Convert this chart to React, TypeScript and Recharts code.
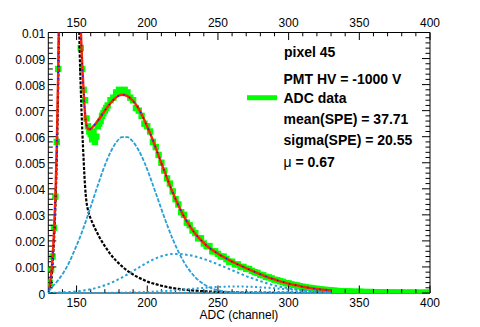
import React from "react";
import { ComposedChart, Line, XAxis, YAxis } from "recharts";

// fit curves, sampled on one grid (finer around the pedestal)
const curveX = [
  130, 131, 132, 133, 134, 135, 136, 137, 138, 140, 142, 145, 148, 150, 151, 152, 153, 154, 155, 156,
  157, 158, 159, 160, 162, 164, 166, 168, 170, 174, 178, 182, 186, 190, 194, 198, 202, 206, 210, 214,
  218, 222, 226, 230, 234, 238, 242, 246, 250, 254, 258, 262, 266, 270, 274, 278, 282, 286, 290, 294,
  298, 302, 306, 310, 314, 318, 322, 326, 330,
];
const pedestal = [
  0.00005, 0.00018, 0.0005, 0.0011, 0.002, 0.0033, 0.0052, 0.008, 0.0118, 0.02, 0.03, 0.04, 0.035, 0.02, 0.0135, 0.0098, 0.0078, 0.0063, 0.0051, 0.0041,
  0.0035, 0.0032, 0.003, 0.00285, 0.0026, 0.00237, 0.00216, 0.00197, 0.0018, 0.00149, 0.00124, 0.00103, 0.00085, 0.00071, 0.00059, 0.00049, 0.0004, 0.00034, 0.00028, 0.00023,
  0.00019, 0.00016, 0.00013, 0.00011, 0.00009, 0.000075, 0.000062, 0.000051, 0.000043, 0.000035, 0.000029, 0.000024, 0.00002, 0.000017, 0.000014, 0.000012, 0.00001, 0.000008, 0.0000065, 0.0000054,
  0.0000045, 0.000004, 0.0000033, 0.0000027, 0.0000022, 0.0000018, 0.0000015, 0.0000012, 0.000001,
];
const pe1 = [
  0.00008, 0.00013, 0.00019, 0.00025, 0.00031, 0.00037, 0.00043, 0.0005, 0.00057, 0.00072, 0.0009, 0.0012, 0.00157, 0.00182, 0.00195, 0.00208, 0.00222, 0.00237, 0.00252, 0.00267,
  0.00283, 0.00299, 0.00315, 0.00331, 0.00364, 0.00397, 0.00429, 0.00461, 0.0049, 0.00541, 0.00578, 0.00598, 0.00598, 0.0058, 0.00547, 0.00501, 0.00445, 0.00384, 0.00322, 0.00262,
  0.00207, 0.00159, 0.00118, 0.00086, 0.0006, 0.00041, 0.00027, 0.00017, 0.00011, 0.000066, 0.000039, 0.000022, 0.000012, 0.0000066, 0.0000035, 0.0000017, 0.0000008, 0.0000004, 0.0000002, 0.0000001,
  0.0000001, 0.0000001, 0.0000001, 0.0000001, 0.0000001, 0.0000001, 0.0000001, 0.0000001, 0.0000001,
];
const pe2 = [
  0.0000075, 0.0000084, 0.0000095, 0.0000106, 0.0000119, 0.0000134, 0.0000149, 0.0000167, 0.0000186, 0.000023, 0.000028, 0.000038, 0.000051, 0.000061, 0.000067, 0.000074, 0.000081, 0.000088, 0.000096, 0.000104,
  0.000113, 0.000123, 0.000133, 0.000144, 0.000168, 0.000196, 0.000226, 0.00026, 0.000297, 0.000381, 0.00048, 0.000592, 0.000714, 0.000844, 0.000976, 0.001105, 0.001225, 0.00133, 0.001413, 0.00147,
  0.0015, 0.0015, 0.00148, 0.00145, 0.0014, 0.00134, 0.00127, 0.00119, 0.0011, 0.00101, 0.00092, 0.00083, 0.00074, 0.00065, 0.00057, 0.00049, 0.00042, 0.00035, 0.00029, 0.00024,
  0.0002, 0.00016, 0.00013, 0.0001, 0.00008, 0.000062, 0.000047, 0.000036, 0.000027,
];
const pe3 = [
  0.0000001, 0.0000001, 0.0000001, 0.0000001, 0.0000001, 0.0000001, 0.0000001, 0.0000001, 0.00000014, 0.0000002, 0.0000003, 0.0000004, 0.0000005, 0.00000055, 0.0000006, 0.0000007, 0.0000008, 0.0000009, 0.000001, 0.0000011,
  0.0000012, 0.0000013, 0.0000014, 0.0000016, 0.000002, 0.0000025, 0.000003, 0.0000035, 0.000004, 0.0000057, 0.000008, 0.000011, 0.000015, 0.00002, 0.000026, 0.000034, 0.000043, 0.000054, 0.000067, 0.000081,
  0.000097, 0.000114, 0.000133, 0.000152, 0.00017, 0.000189, 0.000206, 0.000221, 0.000233, 0.000242, 0.000248, 0.00025, 0.000248, 0.000244, 0.000236, 0.000225, 0.000212, 0.000198, 0.000182, 0.000165,
  0.000147, 0.00013, 0.000113, 0.000098, 0.000083, 0.00007, 0.000058, 0.000047, 0.000038,
];
const pe4 = [
  0, 0, 0, 0, 0, 0, 0, 0, 0, 0, 0, 0, 0, 0, 0, 0, 0, 0, 0, 0,
  0, 0, 0, 0, 0, 0, 0, 0, 0, 0.0000004, 0.0000006, 0.0000008, 0.000001, 0.0000013, 0.0000017, 0.0000021, 0.0000027, 0.0000033, 0.000004, 0.0000049,
  0.000006, 0.0000071, 0.0000085, 0.00001, 0.0000118, 0.0000135, 0.0000155, 0.0000175, 0.0000197, 0.000022, 0.0000243, 0.0000266, 0.0000288, 0.000031, 0.000033, 0.0000349, 0.0000364, 0.0000378, 0.0000389, 0.0000396,
  0.00004, 0.00004, 0.0000397, 0.0000389, 0.0000378, 0.0000365, 0.000035, 0.000033, 0.000031,
];
const fitTotal = [
  0.00014, 0.00032, 0.0007, 0.00136, 0.00232, 0.00368, 0.00564, 0.00852, 0.01239, 0.02074, 0.03093, 0.04124, 0.03662, 0.02188, 0.01552, 0.01195, 0.0101, 0.00876, 0.00772, 0.00687,
  0.00644, 0.00631, 0.00628, 0.0063, 0.00641, 0.00654, 0.00668, 0.00684, 0.007, 0.00729, 0.00751, 0.00761, 0.00756, 0.00737, 0.00707, 0.00663, 0.00613, 0.00557, 0.00498, 0.00441,
  0.00386, 0.00337, 0.00293, 0.00258, 0.00227, 0.00203, 0.00182, 0.00165, 0.00151, 0.00138, 0.00126, 0.00115, 0.00105, 0.00095, 0.00086, 0.00076, 0.00068, 0.00059, 0.00052, 0.00045,
  0.00039, 0.00033, 0.00029, 0.00024, 0.0002, 0.00017, 0.00014, 0.00012, 0.0001,
];

// ADC data histogram
const adcX = [
  130, 131, 132, 133, 134, 135, 136, 137, 138, 139, 140, 141, 142, 143, 144, 145, 146, 147, 148, 149,
  150, 151, 152, 153, 154, 155, 156, 157, 158, 159, 160, 161, 162, 163, 164, 165, 166, 167, 168, 169,
  170, 171, 172, 174, 176, 178, 180, 182, 184, 186, 188, 190, 192, 194, 196, 198, 200, 202, 204, 206,
  208, 210, 212, 214, 216, 218, 220, 222, 224, 226, 228, 230, 232, 234, 236, 238, 240, 242, 244, 246,
  248, 250, 252, 254, 256, 258, 260, 262, 264, 266, 268, 270, 272, 274, 276, 278, 280, 282, 284, 286,
  288, 290, 292, 294, 296, 298, 300, 302, 304, 306, 308, 310, 312, 314, 316, 318, 320, 322, 324, 326,
  328, 330, 332, 334, 336, 338, 340, 342, 344, 346, 348, 350, 352, 354, 356, 358, 360, 362, 364, 366,
  368, 370, 372, 374, 376, 378, 380, 382, 384, 386, 388, 390, 392, 394, 396, 398, 400,
];
const adcY = [
  0.00025, 0.0004, 0.0009, 0.0014, 0.0025, 0.0037, 0.0058, 0.0086, 0.0121, 0.0165, 0.0212, 0.026, 0.0305, 0.035, 0.0385, 0.0405, 0.0402, 0.0385, 0.0362, 0.0305,
  0.0222, 0.0158, 0.0118, 0.0094, 0.0086, 0.0078, 0.0074, 0.0067, 0.0064, 0.0062, 0.0061, 0.0059, 0.0062, 0.0058, 0.006, 0.0064, 0.0065, 0.0066, 0.0068, 0.0069,
  0.007, 0.0071, 0.0072, 0.0074, 0.0075, 0.0077, 0.0078, 0.0077, 0.0078, 0.0077, 0.0075, 0.0074, 0.0071, 0.007, 0.0068, 0.0065, 0.0064, 0.0062, 0.0058, 0.0056,
  0.0053, 0.005, 0.0047, 0.0044, 0.0042, 0.0039, 0.0036, 0.0034, 0.0031, 0.003, 0.0027, 0.0026, 0.0024, 0.0023, 0.0021, 0.0021, 0.0019, 0.0018, 0.0018, 0.0016,
  0.0016, 0.0015, 0.0014, 0.0014, 0.0013, 0.0012, 0.0012, 0.0011, 0.0011, 0.001, 0.001, 0.00093, 0.00092, 0.00085, 0.0008, 0.00077, 0.0007, 0.00068, 0.00062, 0.0006,
  0.00056, 0.00051, 0.00049, 0.00045, 0.00043, 0.00038, 0.00037, 0.00033, 0.00031, 0.00029, 0.00026, 0.00024, 0.00022, 0.0002, 0.00019, 0.00017, 0.00016, 0.00014, 0.00013, 0.00012,
  0.00011, 0.0001, 0.00009, 0.00008, 0.00007, 0.00007, 0.00006, 0.00006, 0.00005, 0.00005, 0.00004, 0.00005, 0.00004, 0.00004, 0.00003, 0.00004, 0.00003, 0.00003, 0.00003, 0.00002,
  0.00003, 0.00002, 0.00002, 0.00002, 0.00002, 0.00001, 0.00002, 0.00001, 0.00001, 0.00002, 0.00001, 0.00001, 0.00001, 0.00001, 0.00001, 0.00001, 0.00001,
];

const xMajorTicks = [150, 200, 250, 300, 350, 400];
const yTickLabels = ["0", "0.001", "0.002", "0.003", "0.004", "0.005", "0.006", "0.007", "0.008", "0.009", "0.01"];
const legendLines = ["PMT HV = -1000 V", "ADC data", "mean(SPE) = 37.71", "sigma(SPE) = 20.55"];

const xTicks = Array.from({ length: 27 }, (_, i) => 140 + i * 10);
const yTicks = Array.from({ length: 51 }, (_, i) => i * 0.0002);

const pts = (xs: number[], ys: number[]) => xs.map((x, i) => ({ x, y: ys[i] }));
const curve = (ys: number[]) => pts(curveX, ys);

const FONT = "'Liberation Sans', Arial, Helvetica, sans-serif";
const BLUE = "#27a0d6";
const MARGIN = { top: 12.5, right: 40, bottom: 4, left: 0 };

function XTick({ x, y, payload, top }: any) {
  const v = payload.value;
  const major = xMajorTicks.includes(v);
  const len = major ? 7.5 : 3.8;
  return (
    <g>
      <line x1={x} x2={x} y1={y} y2={top ? y + len : y - len} stroke="#000" strokeWidth={1} />
      {major && (
        <text x={x} y={top ? y - 5.2 : y + 14.3} textAnchor="middle" fontSize={12} fontFamily={FONT} fill="#000">
          {v}
        </text>
      )}
    </g>
  );
}

function YTick({ x, y, payload, right }: any) {
  const idx = Math.round(payload.value / 0.0002);
  const major = idx % 5 === 0;
  const len = major ? 8 : 4.5;
  return (
    <g>
      <line x1={x} x2={right ? x - len : x + len} y1={y} y2={y} stroke="#000" strokeWidth={1} />
      {major && !right && (
        <text x={x - 3} y={y + 5.5} textAnchor="end" fontSize={12} fontFamily={FONT} fill="#000">
          {yTickLabels[idx / 5]}
        </text>
      )}
    </g>
  );
}

const SquareDot = (p: any) => (
  <rect key={`adc-${p.index}`} x={p.cx - 3.2} y={p.cy - 3.2} width={6.4} height={6.4} fill="#00ff00" />
);

// the same four axes for both layers; only the lower layer draws them
function axes(visible: boolean) {
  const common = {
    type: "number" as const,
    allowDataOverflow: true,
    interval: 0,
    tickSize: 0,
    tickMargin: 0,
    tickLine: false,
    axisLine: visible ? { stroke: "#000" } : false,
  };
  return [
    <XAxis key="xb" xAxisId="bottom" dataKey="x" domain={[130, 400]} ticks={xTicks} height={30} {...common}
      tick={visible ? (p: any) => <XTick {...p} /> : false} />,
    <XAxis key="xt" xAxisId="top" dataKey="x" orientation="top" domain={[130, 400]} ticks={xTicks} height={20} {...common}
      tick={visible ? (p: any) => <XTick {...p} top /> : false} />,
    <YAxis key="yl" yAxisId="left" domain={[0, 0.01]} ticks={yTicks} width={48.3} {...common}
      tick={visible ? (p: any) => <YTick {...p} /> : false} />,
    <YAxis key="yr" yAxisId="right" orientation="right" domain={[0, 0.01]} ticks={yTicks} width={10} {...common}
      tick={visible ? (p: any) => <YTick {...p} right /> : false} />,
  ];
}

export default function App() {
  const legendY = [84, 102.5, 124, 145];
  return (
    <div style={{ position: "relative", width: 480, height: 327, background: "#fff" }}>
      <style>{"body{margin:0}"}</style>
      {/* lower layer: frame, ticks and the ADC data markers */}
      <ComposedChart width={480} height={327} margin={MARGIN}>
        {axes(true)}
        <Line xAxisId="bottom" yAxisId="left" data={pts(adcX, adcY)} dataKey="y" stroke="none"
          dot={SquareDot} activeDot={false} isAnimationActive={false} />
        <Line xAxisId="top" yAxisId="right" data={curve(fitTotal)} dataKey="y" stroke="none"
          dot={false} activeDot={false} isAnimationActive={false} />
      </ComposedChart>
      {/* upper layer: the fit and its components */}
      <div style={{ position: "absolute", left: 0, top: 0 }}>
        <ComposedChart width={480} height={327} margin={MARGIN}>
          {axes(false)}
          <Line xAxisId="bottom" yAxisId="left" data={curve(pedestal)} dataKey="y" type="monotone"
            stroke="#000" strokeWidth={2.2} strokeDasharray="3 1.5" dot={false} activeDot={false} isAnimationActive={false} />
          <Line xAxisId="bottom" yAxisId="left" data={curve(pe1)} dataKey="y" type="monotone"
            stroke={BLUE} strokeWidth={1.8} strokeDasharray="4 1.5" dot={false} activeDot={false} isAnimationActive={false} />
          <Line xAxisId="bottom" yAxisId="left" data={curve(pe2)} dataKey="y" type="monotone"
            stroke={BLUE} strokeWidth={2} strokeDasharray="2.5 2.5" dot={false} activeDot={false} isAnimationActive={false} />
          <Line xAxisId="bottom" yAxisId="left" data={curve(pe3)} dataKey="y" type="monotone"
            stroke={BLUE} strokeWidth={2} strokeDasharray="2 2.5" dot={false} activeDot={false} isAnimationActive={false} />
          <Line xAxisId="bottom" yAxisId="left" data={curve(pe4)} dataKey="y" type="monotone"
            stroke={BLUE} strokeWidth={2} strokeDasharray="2 2.5" dot={false} activeDot={false} isAnimationActive={false} />
          <Line xAxisId="bottom" yAxisId="left" data={curve(fitTotal)} dataKey="y" type="monotone"
            stroke="#ff2200" strokeWidth={2.4} dot={false} activeDot={false} isAnimationActive={false} />
          <Line xAxisId="bottom" yAxisId="left" data={curve(fitTotal)} dataKey="y" type="monotone"
            stroke="#1010ff" strokeWidth={1.5} strokeDasharray="1.2 5" dot={false} activeDot={false} isAnimationActive={false} />
          <Line xAxisId="top" yAxisId="right" data={curve(fitTotal)} dataKey="y" stroke="none"
            dot={false} activeDot={false} isAnimationActive={false} />
        </ComposedChart>
      </div>
      <svg width={480} height={327} style={{ position: "absolute", left: 0, top: 0, pointerEvents: "none" }}>
        <g fontFamily={FONT} fontSize={14} fontWeight="bold" fill="#000">
          <text x={284} y={57}>pixel 45</text>
          {legendLines.map((t, i) => (
            <text key={t} x={283.5} y={legendY[i]}>{t}</text>
          ))}
          <text x={283.5} y={166.5}>
            <tspan fontWeight="normal">μ</tspan> = 0.67
          </text>
        </g>
        <line x1={247} x2={277} y1={97.7} y2={97.7} stroke="#00ff00" strokeWidth={5} />
        <text x={278.3} y={318.5} textAnchor="end" fontFamily={FONT} fontSize={12} fill="#000">
          ADC (channel)
        </text>
      </svg>
    </div>
  );
}
